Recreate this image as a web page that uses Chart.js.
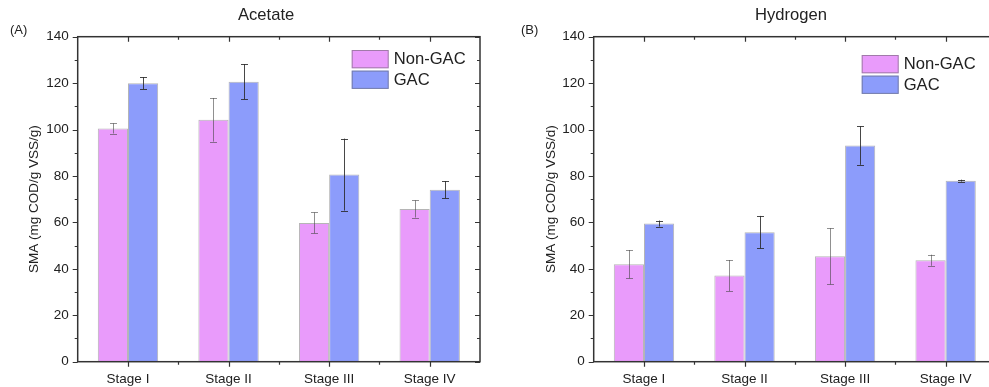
<!DOCTYPE html>
<html>
<head>
<meta charset="utf-8">
<script src="https://cdn.jsdelivr.net/npm/chart.js@4.4.1/dist/chart.umd.min.js"></script>
<style>
  html, body { margin: 0; padding: 0; background: #fff; overflow: hidden; }
  body { width: 989px; height: 387px; position: relative; font-family: "Liberation Sans", Arial, sans-serif; color: #222; }
  canvas { position: absolute; top: 0; }
  .lbl { position: absolute; white-space: nowrap; line-height: 1; }
</style>
</head>
<body>
<canvas id="acetate" width="495" height="387" style="left:0"></canvas>
<canvas id="hydrogen" width="520" height="387" style="left:495px"></canvas>
<div class="lbl" style="left:10px;top:23px;font-size:13px">(A)</div>
<div class="lbl" style="left:521px;top:23px;font-size:13px">(B)</div>
<div class="lbl" style="left:238px;top:7px;font-size:16.6px">Acetate</div>
<div class="lbl" style="left:755px;top:7px;font-size:16.6px">Hydrogen</div>
<script>
const stages = ['Stage I', 'Stage II', 'Stage III', 'Stage IV'];

const acetateNonGAC = [100.5, 104.2, 59.8, 65.8];
const acetateNonGACErr = [2.2, 9.4, 4.5, 3.7];
const acetateGAC = [120.0, 120.6, 80.6, 74.1];
const acetateGACErr = [2.6, 7.6, 15.5, 3.7];

const hydrogenNonGAC = [42.0, 37.1, 45.4, 43.7];
const hydrogenNonGACErr = [6.1, 6.7, 12.1, 2.4];
const hydrogenGAC = [59.5, 55.8, 93.1, 78.0];
const hydrogenGACErr = [1.3, 7.0, 8.3, 0.4];

const yMin = 0, yMax = 140, yStep = 20;

const PINK = '#e99bfb';
const BLUE = '#8c9cfb';
const FONT = '"Liberation Sans", Arial, sans-serif';

// error bars drawn from the y scale
const errorBars = {
  id: 'errorBars',
  afterDatasetsDraw(chart) {
    const ctx = chart.ctx, y = chart.scales.y;
    chart.data.datasets.forEach((ds, i) => {
      const meta = chart.getDatasetMeta(i);
      ctx.save();
      ctx.strokeStyle = ds.errColor;
      ctx.lineWidth = 1;
      meta.data.forEach((bar, j) => {
        const v = ds.data[j], e = ds.err[j];
        const top = y.getPixelForValue(v + e), bot = y.getPixelForValue(v - e);
        const x = Math.round(bar.x) + 0.5;
        ctx.beginPath();
        ctx.moveTo(x, top); ctx.lineTo(x, bot);
        ctx.moveTo(x - 3.5, Math.round(top) + 0.5); ctx.lineTo(x + 3.5, Math.round(top) + 0.5);
        ctx.moveTo(x - 3.5, Math.round(bot) + 0.5); ctx.lineTo(x + 3.5, Math.round(bot) + 0.5);
        ctx.stroke();
      });
      ctx.restore();
    });
  }
};

// box frame with ticks on all sides, minor ticks in between
const frame = {
  id: 'frame',
  afterDraw(chart) {
    const ctx = chart.ctx, a = chart.chartArea;
    const x = chart.scales.x, y = chart.scales.y;
    ctx.save();
    ctx.strokeStyle = '#333';
    ctx.lineWidth = 1.5;
    ctx.strokeRect(a.left, a.top, a.right - a.left, a.bottom - a.top);
    ctx.lineWidth = 1.2;
    ctx.beginPath();
    for (let v = yMin; v <= yMax; v += yStep / 2) {
      const py = Math.round(y.getPixelForValue(v)) + 0.5;
      const len = (v % yStep === 0) ? 5 : 3;
      ctx.moveTo(a.left, py); ctx.lineTo(a.left - len, py);
      ctx.moveTo(a.right, py); ctx.lineTo(a.right - len, py);
    }
    const n = chart.data.labels.length;
    for (let k = 0; k <= 2 * n; k++) {
      const px = Math.round(x.getPixelForValue(k / 2 - 0.5)) + 0.5;
      if (px < a.left + 1 || px > a.right - 1) continue;
      const len = (k % 2 === 1) ? 5 : 3;
      ctx.moveTo(px, a.bottom); ctx.lineTo(px, a.bottom + len);
      ctx.moveTo(px, a.top); ctx.lineTo(px, a.top + len);
    }
    ctx.stroke();
    ctx.restore();
  }
};

// legend inside the plot area
const innerLegend = {
  id: 'innerLegend',
  afterDraw(chart, args, opts) {
    const ctx = chart.ctx, a = chart.chartArea;
    ctx.save();
    ctx.font = '16.6px ' + FONT;
    ctx.textBaseline = 'middle';
    ctx.fillStyle = '#222';
    chart.data.datasets.forEach((ds, i) => {
      const bx = a.left + opts.x, by = a.top + opts.y + i * 20.6;
      ctx.fillStyle = ds.backgroundColor;
      ctx.fillRect(bx, by, 37, 18.3);
      ctx.strokeStyle = 'rgba(90,90,90,0.5)';
      ctx.lineWidth = 1;
      ctx.strokeRect(bx + 0.5, by + 0.5, 36, 17.3);
      ctx.fillStyle = '#222';
      ctx.fillText(ds.label, bx + 42, by + 9.5);
    });
    ctx.restore();
  }
};

function makeChart(id, nonGac, nonGacErr, gac, gacErr, yTitle, pad, yWidth, titlePad, legendPos) {
  return new Chart(document.getElementById(id), {
    type: 'bar',
    data: {
      labels: stages,
      datasets: [
        { label: 'Non-GAC', data: nonGac, err: nonGacErr, errColor: 'rgba(70,70,70,0.6)',
          backgroundColor: PINK, borderColor: 'rgba(90,90,90,0.45)', borderWidth: 1,
          categoryPercentage: 0.6, barPercentage: 1.0 },
        { label: 'GAC', data: gac, err: gacErr, errColor: 'rgba(40,40,40,0.85)',
          backgroundColor: BLUE, borderColor: 'rgba(90,90,90,0.45)', borderWidth: 1,
          categoryPercentage: 0.6, barPercentage: 1.0 }
      ]
    },
    options: {
      responsive: false,
      animation: false,
      devicePixelRatio: 1,
      layout: { padding: pad },
      plugins: {
        legend: { display: false },
        tooltip: { enabled: false },
        innerLegend: legendPos
      },
      scales: {
        x: {
          grid: { display: false, drawTicks: false },
          border: { display: false },
          ticks: { color: '#222', padding: 9, font: { family: FONT, size: 13.5 } },
          afterFit: s => { s.height = 25.3; }
        },
        y: {
          min: yMin, max: yMax,
          grid: { display: false, drawTicks: false },
          border: { display: false },
          ticks: { stepSize: yStep, color: '#222', padding: 9, font: { family: FONT, size: 13.5 } },
          title: { display: true, text: yTitle, color: '#222', padding: { top: titlePad, bottom: 0 },
                   font: { family: FONT, size: 13.5 } },
          afterFit: s => { s.width = yWidth; }
        }
      }
    },
    plugins: [errorBars, frame, innerLegend]
  });
}

makeChart('acetate', acetateNonGAC, acetateNonGACErr, acetateGAC, acetateGACErr,
  'SMA (mg COD/g VSS/g)', { left: 0, right: 15, top: 36.7, bottom: 0 }, 77.7, 26, { x: 274, y: 13.3 });
makeChart('hydrogen', hydrogenNonGAC, hydrogenNonGACErr, hydrogenGAC, hydrogenGACErr,
  'SMA (mg COD/g VSS/d)', { left: 0, right: 19.1, top: 36.7, bottom: 0 }, 98.7, 48, { x: 268, y: 18.3 });
</script>
</body>
</html>
